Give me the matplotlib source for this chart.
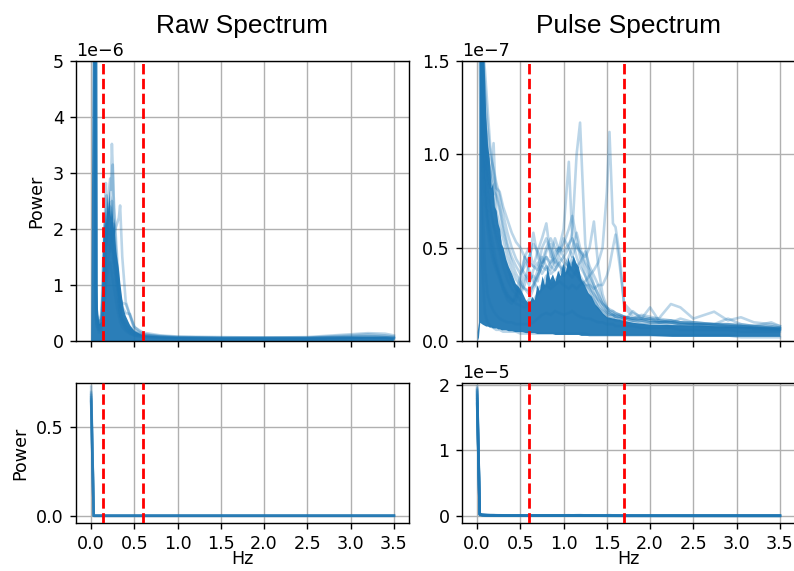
import numpy as np
import matplotlib
matplotlib.use("Agg")
import matplotlib.pyplot as plt

plt.rcParams["font.family"] = ["DejaVu Sans"]
plt.rcParams["font.size"] = 10

# ---------------- data ----------------
titles = ["Raw Spectrum", "Pulse Spectrum"]
x_ticks = [0.0, 0.5, 1.0, 1.5, 2.0, 2.5, 3.0, 3.5]
raw_band = [0.133, 0.6]
pulse_band = [0.6, 1.7]

# dense core of the overlapping raw spectra (units of 1e-6)
raw_core_freq = [0.0, 0.02, 0.03, 0.05, 0.058, 0.062, 0.068, 0.08, 0.10, 0.12,
                 0.13, 0.14, 0.15, 0.16, 0.17, 0.18, 0.19, 0.20, 0.21, 0.22,
                 0.23, 0.24, 0.25, 0.26, 0.27, 0.28, 0.29, 0.30, 0.32, 0.34,
                 0.36, 0.38, 0.40, 0.45, 0.50, 0.60, 0.80, 1.0, 1.5, 2.0,
                 2.5, 3.0, 3.2, 3.4, 3.5]
raw_core_upper = [0.0, 5.5, 60, 60, 5.5, 2.5, 1.0, 0.45, 0.3, 0.35,
                  1.2, 1.9, 2.2, 2.0, 2.4, 2.1, 2.6, 2.3, 2.7, 2.4,
                  2.2, 2.6, 2.3, 2.0, 2.2, 1.8, 1.6, 1.5, 1.3, 1.0,
                  0.75, 0.55, 0.45, 0.28, 0.18, 0.1, 0.08, 0.07, 0.06, 0.06,
                  0.06, 0.07, 0.07, 0.07, 0.06]

# individual raw spectra: DC value (absolute) + values (units of 1e-6)
raw_line_freq = [0.03, 0.06, 0.09, 0.12, 0.14, 0.16, 0.17, 0.18, 0.20, 0.22,
                 0.23, 0.24, 0.25, 0.26, 0.28, 0.30, 0.32, 0.335, 0.36, 0.40,
                 0.45, 0.50, 0.60, 0.80, 1.0, 1.5, 2.0, 2.5, 3.0, 3.2,
                 3.4, 3.5]
raw_dc = [0.73, 0.70, 0.68, 0.66, 0.65, 0.645, 0.67, 0.69]
raw_lines = [
    [40, 0.5, 0.3, 0.4, 0.9, 1.4, 1.6, 1.9, 2.2, 2.5,
     2.8, 3.52, 3.1, 2.4, 1.8, 1.3, 0.9, 0.6, 0.4, 0.3,
     0.2, 0.15, 0.1, 0.07, 0.06, 0.05, 0.05, 0.05, 0.06, 0.06, 0.06, 0.05],
    [25, 0.6, 0.3, 0.5, 1.5, 2.2, 2.82, 2.0, 1.8, 1.6,
     1.9, 2.1, 1.7, 1.5, 1.2, 0.9, 0.6, 0.45, 0.35, 0.25,
     0.18, 0.12, 0.09, 0.07, 0.06, 0.05, 0.05, 0.05, 0.07, 0.08, 0.07, 0.06],
    [30, 0.4, 0.25, 0.3, 0.6, 0.9, 1.1, 1.3, 1.5, 1.7,
     1.8, 2.0, 2.1, 1.9, 2.0, 2.1, 2.2, 2.42, 1.5, 0.7,
     0.45, 0.25, 0.15, 0.1, 0.08, 0.07, 0.06, 0.07, 0.12, 0.14, 0.13, 0.1],
    [35, 0.5, 0.3, 0.4, 1.0, 1.5, 1.8, 2.2, 2.6, 2.9,
     2.7, 2.9, 3.15, 2.6, 2.0, 1.5, 1.0, 0.7, 0.5, 0.35,
     0.25, 0.17, 0.1, 0.08, 0.07, 0.06, 0.06, 0.06, 0.1, 0.12, 0.1, 0.08],
    [20, 0.4, 0.2, 0.3, 0.7, 1.2, 1.5, 1.7, 1.9, 2.0,
     1.8, 1.7, 1.6, 1.4, 1.2, 1.0, 0.85, 0.75, 0.68, 0.66,
     0.45, 0.2, 0.12, 0.09, 0.07, 0.06, 0.06, 0.06, 0.08, 0.09, 0.08, 0.07],
    [15, 0.3, 0.2, 0.3, 0.8, 1.3, 1.7, 2.0, 2.3, 2.4,
     2.2, 2.0, 1.9, 1.7, 1.4, 1.2, 1.0, 0.8, 0.6, 0.5,
     0.48, 0.25, 0.12, 0.08, 0.06, 0.05, 0.05, 0.05, 0.06, 0.06, 0.06, 0.05],
    [12, 0.3, 0.15, 0.2, 0.5, 0.8, 1.0, 1.1, 1.3, 1.4,
     1.3, 1.2, 1.1, 1.0, 0.8, 0.6, 0.45, 0.35, 0.25, 0.18,
     0.13, 0.1, 0.07, 0.05, 0.04, 0.04, 0.04, 0.04, 0.05, 0.05, 0.05, 0.04],
    [50, 0.6, 0.3, 0.4, 1.1, 1.9, 2.3, 2.6, 2.1, 1.9,
     2.2, 2.5, 2.2, 1.9, 1.6, 1.1, 0.8, 0.5, 0.35, 0.22,
     0.15, 0.1, 0.08, 0.06, 0.05, 0.04, 0.05, 0.05, 0.07, 0.08, 0.07, 0.05],
]

# dense core of the overlapping pulse spectra (units of 1e-7)
pulse_core_freq = [0.0, 0.015, 0.03, 0.06, 0.08, 0.10, 0.12, 0.14, 0.16, 0.18,
                   0.20, 0.22, 0.24, 0.26, 0.28, 0.30, 0.33, 0.36, 0.40, 0.44,
                   0.48, 0.52, 0.56, 0.60, 0.63, 0.66, 0.69, 0.72, 0.75, 0.78,
                   0.81, 0.84, 0.87, 0.90, 0.93, 0.96, 0.99, 1.02, 1.05, 1.08,
                   1.11, 1.14, 1.17, 1.20, 1.24, 1.28, 1.32, 1.36, 1.40, 1.45,
                   1.50, 1.60, 1.70, 1.80, 1.90, 2.00, 2.25, 2.50, 2.75, 3.00,
                   3.25, 3.50]
pulse_core_upper = [0.05, 0.1, 3.0, 2.0, 1.5, 1.2, 1.05, 0.98, 0.82, 0.85,
                    0.72, 0.7, 0.63, 0.6, 0.52, 0.5, 0.44, 0.4, 0.36, 0.31,
                    0.29, 0.26, 0.22, 0.2, 0.24, 0.22, 0.3, 0.27, 0.35, 0.3,
                    0.4, 0.33, 0.36, 0.32, 0.38, 0.35, 0.42, 0.37, 0.45, 0.4,
                    0.46, 0.42, 0.4, 0.33, 0.3, 0.26, 0.24, 0.2, 0.18, 0.15,
                    0.13, 0.12, 0.11, 0.1, 0.095, 0.09, 0.088, 0.085, 0.082, 0.08,
                    0.077, 0.075]
pulse_core_lower = [0.0, 0.02, 0.1, 0.09, 0.085, 0.08, 0.08, 0.075, 0.075, 0.07,
                    0.07, 0.07, 0.065, 0.065, 0.06, 0.06, 0.06, 0.055, 0.055, 0.05,
                    0.05, 0.05, 0.045, 0.045, 0.045, 0.045, 0.04, 0.04, 0.04, 0.04,
                    0.04, 0.04, 0.04, 0.035, 0.035, 0.035, 0.035, 0.035, 0.035, 0.035,
                    0.035, 0.035, 0.035, 0.03, 0.03, 0.03, 0.03, 0.03, 0.03, 0.03,
                    0.03, 0.03, 0.03, 0.03, 0.03, 0.03, 0.025, 0.025, 0.025, 0.025,
                    0.025, 0.025]

# individual pulse spectra: DC value (units of 1e-5) + values (units of 1e-7)
pulse_line_freq = [0.03, 0.06, 0.09, 0.12, 0.15, 0.19, 0.22, 0.26, 0.30, 0.35,
                   0.40, 0.45, 0.50, 0.55, 0.60, 0.65, 0.70, 0.75, 0.80, 0.85,
                   0.90, 0.95, 1.00, 1.06, 1.10, 1.15, 1.19, 1.25, 1.30, 1.35,
                   1.40, 1.45, 1.50, 1.53, 1.57, 1.60, 1.65, 1.70, 1.80, 1.90,
                   2.00, 2.10, 2.24, 2.35, 2.50, 2.74, 2.90, 3.05, 3.20, 3.40, 3.50]
pulse_dc = [1.98, 1.95, 1.90, 1.85, 1.80, 1.92, 1.88, 1.75, 1.70,
            1.78, 1.83, 1.93, 1.72]
pulse_lines = [
    [3.0, 1.6, 1.45, 1.25, 1.05, 0.9, 0.82, 0.8, 0.72, 0.65,
     0.58, 0.53, 0.50, 0.45, 0.42, 0.40, 0.38, 0.42, 0.45, 0.40,
     0.38, 0.42, 0.45, 0.50, 0.58, 1.00, 1.17, 0.52, 0.35, 0.30,
     0.25, 0.20, 0.18, 0.17, 0.16, 0.15, 0.14, 0.13, 0.12, 0.11,
     0.12, 0.10, 0.11, 0.10, 0.09, 0.09, 0.08, 0.08, 0.07, 0.07, 0.06],
    [2.6, 1.3, 1.0, 0.88, 0.82, 1.06, 0.70, 0.62, 0.55, 0.45,
     0.38, 0.33, 0.30, 0.28, 0.27, 0.30, 0.35, 0.40, 0.45, 0.42,
     0.48, 0.50, 0.60, 0.96, 0.55, 0.45, 0.40, 0.35, 0.30, 0.25,
     0.20, 0.17, 0.15, 0.14, 0.14, 0.13, 0.13, 0.12, 0.11, 0.11,
     0.10, 0.10, 0.10, 0.09, 0.09, 0.08, 0.08, 0.08, 0.07, 0.07, 0.06],
    [2.0, 1.1, 0.80, 0.65, 0.55, 0.45, 0.40, 0.35, 0.30, 0.25,
     0.22, 0.20, 0.19, 0.18, 0.20, 0.22, 0.25, 0.28, 0.30, 0.28,
     0.30, 0.32, 0.30, 0.28, 0.30, 0.28, 0.30, 0.32, 0.35, 0.38,
     0.42, 0.50, 0.80, 1.12, 0.63, 0.61, 0.45, 0.18, 0.13, 0.12,
     0.11, 0.10, 0.10, 0.09, 0.09, 0.08, 0.08, 0.07, 0.07, 0.06, 0.06],
    [2.4, 1.5, 1.2, 1.0, 0.9, 0.8, 0.78, 0.70, 0.60, 0.50,
     0.42, 0.36, 0.32, 0.28, 0.25, 0.30, 0.38, 0.50, 0.55, 0.48,
     0.40, 0.45, 0.42, 0.40, 0.38, 0.35, 0.33, 0.30, 0.30, 0.28,
     0.30, 0.30, 0.35, 0.40, 0.50, 0.57, 0.40, 0.20, 0.15, 0.13,
     0.12, 0.12, 0.11, 0.10, 0.10, 0.09, 0.09, 0.08, 0.08, 0.07, 0.07],
    [2.2, 1.2, 0.9, 0.7, 0.6, 0.5, 0.42, 0.35, 0.28, 0.22,
     0.20, 0.25, 0.35, 0.45, 0.50, 0.40, 0.48, 0.55, 0.63, 0.45,
     0.55, 0.48, 0.52, 0.60, 0.67, 0.55, 0.45, 0.35, 0.28, 0.22,
     0.18, 0.15, 0.13, 0.12, 0.12, 0.11, 0.11, 0.10, 0.10, 0.09,
     0.09, 0.09, 0.08, 0.08, 0.08, 0.07, 0.07, 0.07, 0.06, 0.06, 0.06],
    [2.8, 1.4, 1.1, 0.9, 0.75, 0.62, 0.55, 0.48, 0.40, 0.33,
     0.28, 0.25, 0.22, 0.20, 0.22, 0.28, 0.35, 0.40, 0.38, 0.42,
     0.45, 0.50, 0.48, 0.52, 0.55, 0.50, 0.48, 0.45, 0.50, 0.64,
     0.40, 0.25, 0.18, 0.16, 0.15, 0.14, 0.14, 0.13, 0.12, 0.14,
     0.13, 0.12, 0.198, 0.18, 0.12, 0.157, 0.11, 0.127, 0.10, 0.09, 0.08],
    [2.3, 1.4, 1.15, 0.95, 0.85, 0.75, 0.65, 0.55, 0.48, 0.40,
     0.33, 0.28, 0.25, 0.30, 0.42, 0.58, 0.45, 0.40, 0.48, 0.52,
     0.42, 0.50, 0.45, 0.40, 0.42, 0.38, 0.35, 0.30, 0.25, 0.22,
     0.18, 0.16, 0.14, 0.13, 0.13, 0.12, 0.12, 0.11, 0.16, 0.12,
     0.18, 0.11, 0.10, 0.12, 0.10, 0.09, 0.12, 0.09, 0.08, 0.10, 0.08],
    [1.5, 0.4, 0.15, 0.10, 0.08, 0.07, 0.06, 0.06, 0.05, 0.05,
     0.05, 0.05, 0.04, 0.04, 0.04, 0.04, 0.04, 0.04, 0.04, 0.04,
     0.04, 0.04, 0.04, 0.04, 0.04, 0.04, 0.04, 0.04, 0.03, 0.03,
     0.03, 0.03, 0.03, 0.03, 0.03, 0.03, 0.03, 0.03, 0.03, 0.03,
     0.03, 0.03, 0.03, 0.03, 0.03, 0.03, 0.03, 0.02, 0.02, 0.02, 0.02],
    [2.0, 0.8, 0.4, 0.25, 0.2, 0.16, 0.14, 0.12, 0.11, 0.10,
     0.10, 0.09, 0.09, 0.09, 0.09, 0.10, 0.12, 0.14, 0.15, 0.14,
     0.16, 0.15, 0.14, 0.15, 0.16, 0.14, 0.13, 0.12, 0.12, 0.11,
     0.10, 0.10, 0.09, 0.09, 0.09, 0.08, 0.08, 0.08, 0.08, 0.07,
     0.07, 0.07, 0.07, 0.06, 0.06, 0.06, 0.06, 0.05, 0.05, 0.05, 0.05],
    [2.5, 1.5, 1.2, 1.0, 0.92, 0.85, 0.8, 0.72, 0.62, 0.52,
     0.45, 0.40, 0.36, 0.40, 0.45, 0.52, 0.48, 0.42, 0.50, 0.55,
     0.50, 0.46, 0.55, 0.50, 0.45, 0.52, 0.48, 0.40, 0.33, 0.28,
     0.22, 0.18, 0.15, 0.14, 0.14, 0.13, 0.13, 0.12, 0.11, 0.11,
     0.10, 0.10, 0.10, 0.09, 0.09, 0.09, 0.08, 0.08, 0.08, 0.07, 0.07],
    [2.1, 1.2, 0.95, 0.8, 0.7, 0.62, 0.58, 0.52, 0.45, 0.38,
     0.32, 0.28, 0.26, 0.35, 0.30, 0.38, 0.42, 0.36, 0.40, 0.38,
     0.44, 0.40, 0.38, 0.45, 0.50, 0.58, 0.50, 0.42, 0.38, 0.30,
     0.25, 0.20, 0.16, 0.15, 0.14, 0.14, 0.13, 0.13, 0.12, 0.12,
     0.11, 0.11, 0.10, 0.10, 0.09, 0.09, 0.09, 0.08, 0.08, 0.08, 0.07],
    [2.7, 1.6, 1.35, 1.15, 1.0, 0.92, 0.85, 0.78, 0.68, 0.58,
     0.50, 0.44, 0.40, 0.36, 0.33, 0.35, 0.32, 0.45, 0.40, 0.36,
     0.38, 0.42, 0.35, 0.38, 0.45, 0.40, 0.42, 0.48, 0.40, 0.35,
     0.30, 0.22, 0.18, 0.16, 0.16, 0.15, 0.14, 0.13, 0.12, 0.12,
     0.12, 0.11, 0.11, 0.10, 0.10, 0.09, 0.09, 0.09, 0.08, 0.08, 0.07],
    [1.9, 1.0, 0.75, 0.6, 0.5, 0.42, 0.38, 0.33, 0.28, 0.24,
     0.22, 0.22, 0.30, 0.45, 0.38, 0.32, 0.28, 0.30, 0.35, 0.30,
     0.32, 0.36, 0.40, 0.36, 0.34, 0.38, 0.33, 0.30, 0.28, 0.25,
     0.22, 0.20, 0.17, 0.15, 0.14, 0.13, 0.12, 0.12, 0.11, 0.10,
     0.10, 0.10, 0.09, 0.09, 0.09, 0.08, 0.08, 0.08, 0.07, 0.07, 0.07],
]

# ---------------- figure ----------------
DPI = 126
fig = plt.figure(figsize=(794 / DPI, 571 / DPI), dpi=DPI)
W, H = 794.0, 571.0


def add_ax(l, r, t, b):
    return fig.add_axes([l / W, 1 - b / H, (r - l) / W, (b - t) / H])


ax_tl = add_ax(76, 409, 61, 341)
ax_tr = add_ax(462, 795, 61, 341)
ax_bl = add_ax(76, 409, 383, 523)
ax_br = add_ax(462, 795, 383, 523)

C0 = "#1f77b4"
FS = 10


def draw(ax, core_f, core_u, core_l, core_scale, line_f, dc, dc_scale, lines,
         scale, band):
    ax.fill_between(core_f, np.array(core_l) * core_scale,
                    np.array(core_u) * core_scale, color=C0,
                    alpha=0.95, lw=0, zorder=2)
    for d, vals in zip(dc, lines):
        f = [0.0] + list(line_f)
        y = [d * dc_scale] + list(np.array(vals) * scale)
        ax.plot(f, y, color=C0, alpha=0.3, lw=1.5, zorder=2.2)
    for b in band:
        ax.axvline(b, color="red", ls="--", lw=1.6, zorder=3)
    ax.grid(True)
    ax.set_xlim(-0.175, 3.675)
    ax.set_xticks(x_ticks)
    ax.tick_params(labelsize=FS)
    ax.yaxis.get_offset_text().set_fontsize(FS)


raw_core_lower = [0.0] * len(raw_core_freq)
for ax in (ax_tl, ax_bl):
    draw(ax, raw_core_freq, raw_core_upper, raw_core_lower, 1e-6, raw_line_freq,
         raw_dc, 1.0, raw_lines, 1e-6, raw_band)
for ax in (ax_tr, ax_br):
    draw(ax, pulse_core_freq, pulse_core_upper, pulse_core_lower, 1e-7,
         pulse_line_freq, pulse_dc, 1e-5, pulse_lines, 1e-7, pulse_band)

ax_tl.set_ylim(0, 5e-6)
ax_tr.set_ylim(0, 1.5e-7)
ax_tr.set_yticks([0, 0.5e-7, 1.0e-7, 1.5e-7])
ax_bl.set_ylim(-0.041, 0.751)
ax_bl.set_yticks([0.0, 0.5])
ax_br.set_ylim(-0.11e-5, 2.03e-5)
ax_br.set_yticks([0, 1e-5, 2e-5])

for ax in (ax_tl, ax_tr):
    ax.tick_params(labelbottom=False)
for ax in (ax_bl, ax_br):
    ax.set_xlabel("Hz", fontsize=FS, labelpad=-2)
for ax in (ax_tl, ax_bl):
    ax.set_ylabel("Power", fontsize=FS)

fig.text((76 + 409) / 2 / W, 1 - 33 / H, titles[0], ha="center", va="baseline",
         fontsize=15, family=["Liberation Sans", "DejaVu Sans"])
fig.text((462 + 795) / 2 / W, 1 - 33 / H, titles[1], ha="center", va="baseline",
         fontsize=15, family=["Liberation Sans", "DejaVu Sans"])

fig.savefig("out.png", dpi=DPI)
